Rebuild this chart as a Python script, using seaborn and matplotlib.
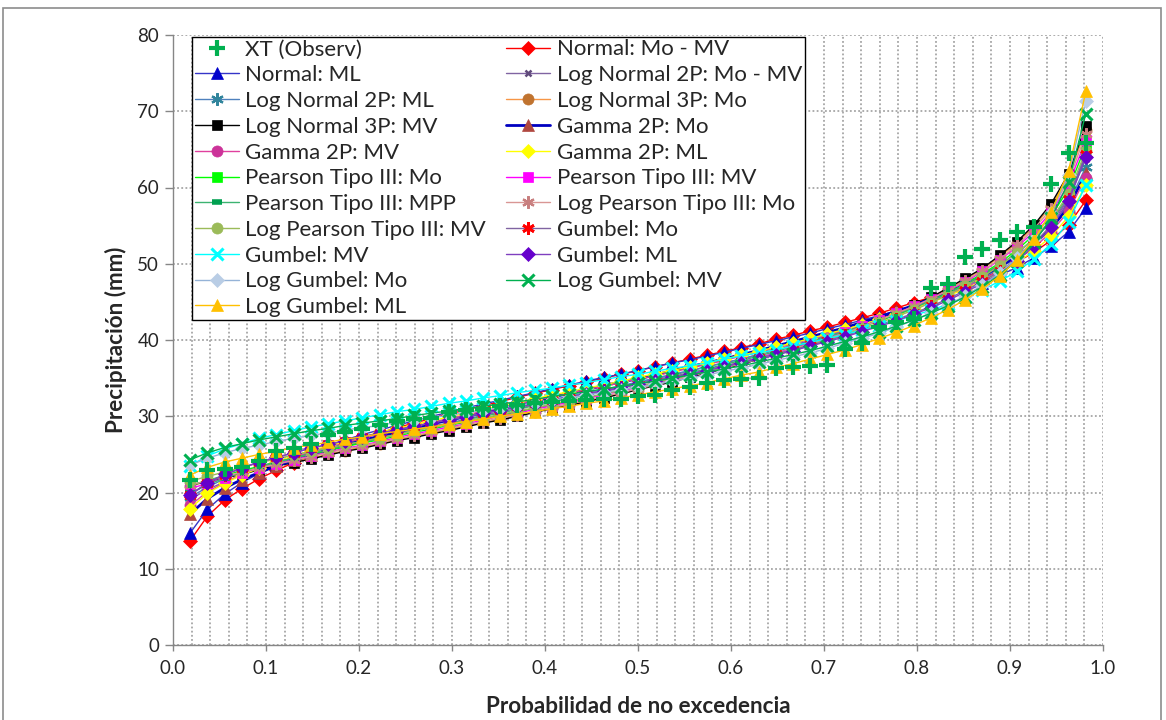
import matplotlib
matplotlib.use("Agg")
import matplotlib.pyplot as plt
import seaborn as sns
from matplotlib.patches import Rectangle
from matplotlib.ticker import MultipleLocator, FormatStrFormatter

# ---------------- data ----------------
prob = [0.0185, 0.0370, 0.0556, 0.0741, 0.0926, 0.1111, 0.1296, 0.1481, 0.1667, 0.1852,
        0.2037, 0.2222, 0.2407, 0.2593, 0.2778, 0.2963, 0.3148, 0.3333, 0.3519, 0.3704,
        0.3889, 0.4074, 0.4259, 0.4444, 0.4630, 0.4815, 0.5000, 0.5185, 0.5370, 0.5556,
        0.5741, 0.5926, 0.6111, 0.6296, 0.6481, 0.6667, 0.6852, 0.7037, 0.7222, 0.7407,
        0.7593, 0.7778, 0.7963, 0.8148, 0.8333, 0.8519, 0.8704, 0.8889, 0.9074, 0.9259,
        0.9444, 0.9630, 0.9815]

xt = [21.6, 22.9, 23.1, 23.4, 24.1, 25.4, 25.9, 26.3, 27.5, 28.0, 28.3, 28.9, 29.4, 29.6,
      29.8, 30.5, 30.8, 31.0, 31.3, 31.5, 31.7, 31.9, 32.0, 32.1, 32.2, 32.3, 32.6, 32.8,
      33.4, 33.9, 34.3, 34.7, 34.9, 35.0, 36.3, 36.5, 36.6, 36.7, 38.8, 39.6, 41.7, 42.3,
      42.8, 46.8, 47.4, 50.9, 52.0, 53.1, 54.1, 54.8, 60.5, 64.5, 65.8]

normal_mo = [13.7, 16.9, 19.0, 20.5, 21.8, 22.9, 23.9, 24.8, 25.7, 26.4, 27.1, 27.8, 28.5,
             29.1, 29.7, 30.3, 30.8, 31.4, 31.9, 32.5, 33.0, 33.5, 34.0, 34.5, 35.0, 35.5,
             36.0, 36.5, 37.0, 37.5, 38.0, 38.5, 39.0, 39.5, 40.1, 40.6, 41.2, 41.7, 42.3,
             42.9, 43.5, 44.2, 44.9, 45.6, 46.4, 47.2, 48.1, 49.1, 50.2, 51.5, 53.1, 55.1, 58.3]

normal_ml = [14.7, 17.8, 19.8, 21.3, 22.5, 23.6, 24.5, 25.3, 26.1, 26.9, 27.6, 28.2, 28.8,
             29.4, 30.0, 30.5, 31.1, 31.6, 32.1, 32.6, 33.1, 33.6, 34.1, 34.6, 35.1, 35.5,
             36.0, 36.5, 37.0, 37.4, 37.9, 38.4, 38.9, 39.4, 39.9, 40.4, 40.9, 41.5, 42.0,
             42.6, 43.2, 43.8, 44.5, 45.1, 45.9, 46.7, 47.5, 48.5, 49.5, 50.8, 52.3, 54.2, 57.3]

ln2_mo = [19.1, 20.4, 21.4, 22.3, 23.0, 23.7, 24.4, 25.0, 25.6, 26.1, 26.6, 27.1, 27.7, 28.2,
          28.7, 29.1, 29.6, 30.1, 30.6, 31.0, 31.5, 32.0, 32.5, 32.9, 33.4, 33.9, 34.4, 34.9,
          35.4, 35.9, 36.5, 37.0, 37.5, 38.1, 38.7, 39.3, 39.9, 40.6, 41.3, 42.0, 42.7, 43.5,
          44.4, 45.3, 46.3, 47.3, 48.5, 49.9, 51.4, 53.2, 55.5, 58.6, 63.7]

ln2_ml = [19.4, 20.7, 21.8, 22.6, 23.4, 24.0, 24.7, 25.3, 25.8, 26.4, 26.9, 27.4, 27.9, 28.4,
          28.9, 29.4, 29.8, 30.3, 30.8, 31.2, 31.7, 32.2, 32.6, 33.1, 33.5, 34.0, 34.5, 35.0,
          35.5, 36.0, 36.5, 37.0, 37.5, 38.1, 38.7, 39.3, 39.9, 40.5, 41.2, 41.8, 42.6, 43.3,
          44.1, 45.0, 46.0, 47.0, 48.1, 49.4, 50.9, 52.7, 54.9, 57.9, 62.7]

ln3_mo = [20.9, 21.4, 21.9, 22.5, 23.0, 23.5, 24.0, 24.5, 25.0, 25.5, 26.0, 26.4, 26.9, 27.4,
          27.8, 28.3, 28.7, 29.2, 29.6, 30.1, 30.6, 31.1, 31.6, 32.0, 32.5, 33.0, 33.6, 34.1,
          34.6, 35.2, 35.7, 36.3, 36.9, 37.5, 38.2, 38.8, 39.5, 40.2, 41.0, 41.8, 42.7, 43.6,
          44.5, 45.6, 46.7, 47.9, 49.3, 50.9, 52.7, 54.9, 57.6, 61.4, 67.6]

ln3_mv = [21.0, 21.4, 21.9, 22.4, 23.0, 23.5, 23.9, 24.4, 24.9, 25.4, 25.8, 26.3, 26.8, 27.2,
          27.7, 28.1, 28.6, 29.1, 29.5, 30.0, 30.5, 31.0, 31.4, 31.9, 32.4, 32.9, 33.5, 34.0,
          34.5, 35.1, 35.7, 36.2, 36.8, 37.5, 38.1, 38.8, 39.5, 40.2, 41.0, 41.8, 42.7, 43.6,
          44.6, 45.6, 46.8, 48.1, 49.4, 51.1, 52.9, 55.1, 57.9, 61.8, 68.1]

gamma_mo = [17.2, 19.2, 20.6, 21.7, 22.6, 23.5, 24.2, 24.9, 25.6, 26.2, 26.8, 27.4, 27.9,
            28.5, 29.0, 29.5, 30.0, 30.5, 31.0, 31.5, 32.0, 32.5, 33.0, 33.5, 34.0, 34.5,
            34.9, 35.4, 36.0, 36.5, 37.0, 37.5, 38.1, 38.6, 39.2, 39.8, 40.4, 41.0, 41.6,
            42.3, 43.0, 43.8, 44.5, 45.4, 46.3, 47.3, 48.4, 49.6, 51.0, 52.6, 54.7, 57.4, 61.9]

gamma_mv = [18.3, 20.1, 21.3, 22.4, 23.2, 24.0, 24.7, 25.3, 26.0, 26.6, 27.1, 27.7, 28.2,
            28.7, 29.2, 29.7, 30.2, 30.6, 31.1, 31.6, 32.1, 32.5, 33.0, 33.5, 33.9, 34.4,
            34.9, 35.3, 35.8, 36.3, 36.8, 37.3, 37.9, 38.4, 38.9, 39.5, 40.1, 40.7, 41.3,
            42.0, 42.7, 43.4, 44.2, 45.0, 45.9, 46.9, 47.9, 49.1, 50.5, 52.1, 54.2, 56.9, 61.3]

gamma_ml = [17.9, 19.9, 21.2, 22.3, 23.2, 24.0, 24.8, 25.5, 26.1, 26.7, 27.3, 27.9, 28.4,
            28.9, 29.4, 29.9, 30.4, 30.9, 31.4, 31.8, 32.3, 32.8, 33.2, 33.7, 34.1, 34.6,
            35.1, 35.6, 36.0, 36.5, 37.0, 37.5, 38.0, 38.5, 39.1, 39.6, 40.2, 40.8, 41.4,
            42.0, 42.7, 43.4, 44.1, 44.9, 45.8, 46.7, 47.7, 48.9, 50.2, 51.7, 53.6, 56.2, 60.3]

p3_mo = [20.9, 21.6, 22.2, 22.9, 23.4, 24.0, 24.5, 25.0, 25.5, 26.0, 26.5, 26.9, 27.4, 27.9,
         28.3, 28.8, 29.2, 29.7, 30.1, 30.6, 31.0, 31.5, 31.9, 32.4, 32.9, 33.4, 33.9, 34.4,
         34.9, 35.4, 35.9, 36.5, 37.1, 37.6, 38.2, 38.9, 39.5, 40.2, 40.9, 41.7, 42.5, 43.3,
         44.2, 45.2, 46.2, 47.4, 48.7, 50.1, 51.8, 53.8, 56.3, 59.8, 65.5]

p3_mv = [20.5, 21.2, 21.9, 22.6, 23.2, 23.7, 24.3, 24.8, 25.3, 25.8, 26.2, 26.7, 27.2, 27.7,
         28.1, 28.6, 29.0, 29.5, 30.0, 30.4, 30.9, 31.4, 31.8, 32.3, 32.8, 33.3, 33.8, 34.3,
         34.9, 35.4, 35.9, 36.5, 37.1, 37.7, 38.3, 38.9, 39.6, 40.3, 41.0, 41.8, 42.6, 43.5,
         44.4, 45.4, 46.5, 47.6, 49.0, 50.5, 52.2, 54.2, 56.8, 60.4, 66.2]

p3_mpp = [19.9, 21.0, 21.9, 22.6, 23.3, 24.0, 24.5, 25.1, 25.6, 26.2, 26.7, 27.1, 27.6, 28.1,
          28.6, 29.0, 29.5, 30.0, 30.4, 30.9, 31.4, 31.8, 32.3, 32.8, 33.2, 33.7, 34.2, 34.7,
          35.2, 35.7, 36.2, 36.8, 37.3, 37.9, 38.5, 39.1, 39.7, 40.4, 41.1, 41.8, 42.6, 43.4,
          44.2, 45.2, 46.1, 47.3, 48.5, 49.8, 51.4, 53.3, 55.7, 58.9, 64.2]

lp3_mo = [21.0, 21.5, 22.1, 22.7, 23.2, 23.7, 24.2, 24.7, 25.2, 25.7, 26.1, 26.6, 27.0, 27.5,
          27.9, 28.4, 28.9, 29.3, 29.8, 30.2, 30.7, 31.2, 31.6, 32.1, 32.6, 33.1, 33.6, 34.1,
          34.7, 35.2, 35.8, 36.3, 36.9, 37.5, 38.2, 38.8, 39.5, 40.2, 40.9, 41.7, 42.6, 43.5,
          44.4, 45.4, 46.5, 47.8, 49.1, 50.6, 52.4, 54.6, 57.2, 60.9, 67.0]

lp3_mv = [21.5, 22.1, 22.7, 23.3, 23.9, 24.4, 24.9, 25.4, 25.8, 26.3, 26.7, 27.2, 27.6, 28.1,
          28.5, 28.9, 29.4, 29.8, 30.2, 30.7, 31.1, 31.6, 32.0, 32.5, 32.9, 33.4, 33.9, 34.4,
          34.9, 35.4, 35.9, 36.4, 37.0, 37.5, 38.1, 38.7, 39.4, 40.0, 40.7, 41.5, 42.2, 43.1,
          43.9, 44.9, 45.9, 47.1, 48.3, 49.7, 51.4, 53.3, 55.8, 59.2, 64.8]

gumbel_mo = [19.7, 21.2, 22.3, 23.2, 24.0, 24.6, 25.2, 25.8, 26.3, 26.8, 27.3, 27.8, 28.2,
             28.7, 29.1, 29.6, 30.0, 30.4, 30.8, 31.3, 31.7, 32.1, 32.5, 32.9, 33.4, 33.8,
             34.3, 34.7, 35.2, 35.6, 36.1, 36.6, 37.1, 37.6, 38.2, 38.7, 39.3, 39.9, 40.6,
             41.2, 42.0, 42.7, 43.5, 44.4, 45.4, 46.5, 47.7, 49.0, 50.6, 52.6, 55.1, 58.5, 64.4]

gumbel_mv = [23.5, 24.8, 25.7, 26.4, 27.1, 27.6, 28.1, 28.6, 29.0, 29.4, 29.8, 30.2, 30.6,
             30.9, 31.3, 31.7, 32.0, 32.4, 32.7, 33.1, 33.4, 33.7, 34.1, 34.4, 34.8, 35.2,
             35.5, 35.9, 36.3, 36.6, 37.0, 37.5, 37.9, 38.3, 38.7, 39.2, 39.7, 40.2, 40.7,
             41.3, 41.9, 42.5, 43.2, 43.9, 44.7, 45.6, 46.6, 47.7, 49.0, 50.6, 52.6, 55.5, 60.3]

gumbel_ml = [19.7, 21.3, 22.4, 23.2, 24.0, 24.6, 25.2, 25.8, 26.3, 26.8, 27.3, 27.8, 28.2,
             28.7, 29.1, 29.5, 29.9, 30.4, 30.8, 31.2, 31.6, 32.0, 32.4, 32.9, 33.3, 33.7,
             34.2, 34.6, 35.1, 35.5, 36.0, 36.5, 37.0, 37.5, 38.0, 38.6, 39.2, 39.8, 40.4,
             41.1, 41.8, 42.5, 43.4, 44.2, 45.2, 46.3, 47.4, 48.8, 50.4, 52.3, 54.8, 58.2, 64.0]

lg_mo = [23.6, 24.5, 25.2, 25.8, 26.2, 26.7, 27.1, 27.5, 27.8, 28.2, 28.5, 28.8, 29.2, 29.5,
         29.8, 30.1, 30.5, 30.8, 31.1, 31.4, 31.8, 32.1, 32.4, 32.8, 33.1, 33.5, 33.8, 34.2,
         34.6, 35.0, 35.4, 35.9, 36.3, 36.8, 37.3, 37.8, 38.3, 38.9, 39.6, 40.2, 40.9, 41.7,
         42.6, 43.5, 44.6, 45.8, 47.2, 48.8, 50.7, 53.2, 56.6, 61.7, 71.3]

lg_mv = [24.3, 25.2, 25.9, 26.4, 26.9, 27.3, 27.7, 28.1, 28.4, 28.8, 29.1, 29.4, 29.7, 30.1,
         30.4, 30.7, 31.0, 31.3, 31.6, 31.9, 32.2, 32.6, 32.9, 33.2, 33.6, 33.9, 34.3, 34.6,
         35.0, 35.4, 35.8, 36.2, 36.6, 37.1, 37.6, 38.1, 38.6, 39.2, 39.8, 40.4, 41.1, 41.8,
         42.6, 43.5, 44.5, 45.7, 47.0, 48.5, 50.4, 52.8, 56.0, 60.7, 69.7]

lg_ml = [22.3, 23.3, 24.0, 24.5, 25.0, 25.4, 25.9, 26.2, 26.6, 27.0, 27.3, 27.7, 28.0, 28.3,
         28.6, 29.0, 29.3, 29.6, 30.0, 30.3, 30.6, 31.0, 31.3, 31.7, 32.0, 32.4, 32.8, 33.2,
         33.6, 34.0, 34.4, 34.9, 35.4, 35.8, 36.4, 36.9, 37.5, 38.1, 38.7, 39.4, 40.2, 41.0,
         41.9, 42.9, 44.0, 45.3, 46.7, 48.4, 50.5, 53.2, 56.8, 62.2, 72.6]

x_ticks = [0.0, 0.1, 0.2, 0.3, 0.4, 0.5, 0.6, 0.7, 0.8, 0.9, 1.0]
y_ticks = [0, 10, 20, 30, 40, 50, 60, 70, 80]

series = [
    ("XT (Observ)", xt),
    ("Normal: Mo - MV", normal_mo),
    ("Normal: ML", normal_ml),
    ("Log Normal 2P: Mo - MV", ln2_mo),
    ("Log Normal 2P: ML", ln2_ml),
    ("Log Normal 3P: Mo", ln3_mo),
    ("Log Normal 3P: MV", ln3_mv),
    ("Gamma 2P: Mo", gamma_mo),
    ("Gamma 2P: MV", gamma_mv),
    ("Gamma 2P: ML", gamma_ml),
    ("Pearson Tipo III: Mo", p3_mo),
    ("Pearson Tipo III: MV", p3_mv),
    ("Pearson Tipo III: MPP", p3_mpp),
    ("Log Pearson Tipo III: Mo", lp3_mo),
    ("Log Pearson Tipo III: MV", lp3_mv),
    ("Gumbel: Mo", gumbel_mo),
    ("Gumbel: MV", gumbel_mv),
    ("Gumbel: ML", gumbel_ml),
    ("Log Gumbel: Mo", lg_mo),
    ("Log Gumbel: MV", lg_mv),
    ("Log Gumbel: ML", lg_ml),
]

AST = (6, 2, 0)
# name: (line colour, line width, marker, marker size, face, edge, edge width)
styles = {
    "XT (Observ)": ("none", 0, "+", 11, "#00B050", "#00B050", 3.0),
    "Normal: Mo - MV": ("#FF0000", 1.0, "D", 7, "#FF0000", "#FF0000", 0.5),
    "Normal: ML": ("#3535C8", 1.0, "^", 8.5, "#0000CC", "#0000CC", 0.5),
    "Log Normal 2P: Mo - MV": ("#8064A2", 1.0, "x", 5, "#604A7B", "#604A7B", 1.8),
    "Log Normal 2P: ML": ("#4F81BD", 1.0, AST, 9, "#31859C", "#31859C", 1.6),
    "Log Normal 3P: Mo": ("#F79646", 1.0, "o", 8, "#C0732F", "#C0732F", 0.5),
    "Log Normal 3P: MV": ("#000000", 1.0, "s", 7, "#000000", "#000000", 0.5),
    "Gamma 2P: Mo": ("#0000C0", 2.0, "^", 8.5, "#B0473F", "#B0473F", 0.5),
    "Gamma 2P: MV": ("#E0409E", 1.0, "o", 8, "#CC3399", "#CC3399", 0.5),
    "Gamma 2P: ML": ("#FFFF00", 1.0, "D", 7, "#FFFF00", "#FFFF00", 0.5),
    "Pearson Tipo III: Mo": ("#00FF00", 1.0, "s", 7, "#00FF00", "#00FF00", 0.5),
    "Pearson Tipo III: MV": ("#FF00FF", 1.0, "s", 7, "#FF00FF", "#FF00FF", 0.5),
    "Pearson Tipo III: MPP": ("#3CB371", 1.0, "_", 7, "#00A050", "#00A050", 4.0),
    "Log Pearson Tipo III: Mo": ("#D99694", 1.0, AST, 9, "#C87F7F", "#C87F7F", 1.6),
    "Log Pearson Tipo III: MV": ("#9BBB59", 1.0, "o", 8, "#9BBB59", "#9BBB59", 0.5),
    "Gumbel: Mo": ("#8064A2", 1.0, AST, 9, "#FF0000", "#FF0000", 2.0),
    "Gumbel: MV": ("#00FFFF", 1.0, "x", 8, "#00FFFF", "#00FFFF", 2.2),
    "Gumbel: ML": ("#7F3FBF", 1.0, "D", 7, "#6600CC", "#6600CC", 0.5),
    "Log Gumbel: Mo": ("#95B3D7", 1.0, "D", 7, "#B9CDE5", "#B9CDE5", 0.5),
    "Log Gumbel: MV": ("#00B050", 1.0, "x", 8, "#00B050", "#00B050", 2.2),
    "Log Gumbel: ML": ("#FFC000", 1.0, "^", 8.5, "#FFC000", "#FFC000", 0.5),
}

# ---------------- figure ----------------
sns.set_style("white")
plt.rcParams["font.family"] = ["Lato", "DejaVu Sans"]

fig = plt.figure(figsize=(11.66, 7.2), dpi=100)
ax = fig.add_axes([173 / 1166, 75 / 720, 930 / 1166, 610 / 720])

for k, (name, vals) in enumerate(series):
    lc, lw, m, ms, mfc, mec, mew = styles[name]
    z = 40 if name == "XT (Observ)" else 10 + k
    sns.lineplot(x=prob, y=vals, ax=ax, estimator=None, sort=False,
                 color=(mfc if lc == "none" else lc),
                 linewidth=lw, linestyle=("none" if lc == "none" else "-"),
                 marker=m, markersize=ms, markerfacecolor=mfc,
                 markeredgecolor=mec, markeredgewidth=mew,
                 label=name, zorder=z)

ax.set_xlim(0, 1.0)
ax.set_ylim(0, 80)
ax.set_xticks(x_ticks)
ax.set_yticks(y_ticks)
ax.xaxis.set_major_formatter(FormatStrFormatter("%.1f"))
ax.xaxis.set_minor_locator(MultipleLocator(0.02))

grid_kw = dict(color="#A6A6A6", linestyle=(0, (1, 1.3)), linewidth=1.3)
ax.grid(True, which="major", axis="both", **grid_kw)
ax.grid(True, which="minor", axis="x", **grid_kw)
ax.set_axisbelow(True)

for s in ["top", "right"]:
    ax.spines[s].set_visible(False)
for s in ["left", "bottom"]:
    ax.spines[s].set_color("#868686")
    ax.spines[s].set_linewidth(1.0)

ax.tick_params(axis="y", which="major", direction="out", length=6, width=1,
               color="#868686", labelsize=13.5, pad=4, left=True)
ax.tick_params(axis="x", which="major", direction="out", length=4, width=1,
               color="#868686", labelsize=13.5, pad=7, bottom=True)
ax.tick_params(axis="x", which="minor", length=0)

ax.set_xlabel("Probabilidad de no excedencia", fontsize=16.2, fontweight="bold")
ax.set_ylabel("Precipitación (mm)", fontsize=16.2, fontweight="bold")
ax.xaxis.set_label_coords(0.5, -0.083)
ax.yaxis.set_label_coords(-0.049, 0.5)

# legend: Excel fills row-wise, matplotlib column-wise
handles, labels = ax.get_legend_handles_labels()
hmap = dict(zip(labels, handles))
names = [n for n, _ in series]
order = names[0::2] + names[1::2]
leg = ax.legend([hmap[n] for n in order], order, ncol=2, loc="upper left",
                bbox_to_anchor=(0.0204, 0.997), borderaxespad=0,
                fontsize=16, frameon=True, fancybox=False, framealpha=1,
                edgecolor="#000000", labelspacing=0.26, handlelength=2.0,
                handletextpad=0.28, columnspacing=0.9, borderpad=0.12)
leg.get_frame().set_linewidth(1.0)
leg.set_zorder(100)

# outer chart border
fig.patches.append(Rectangle((3 / 1166, -0.01), 1158 / 1166, 1 - 8 / 720 + 0.01,
                             transform=fig.transFigure, fill=False,
                             edgecolor="#8C8C8C", linewidth=1.2))

fig.savefig("out.png", dpi=100)
